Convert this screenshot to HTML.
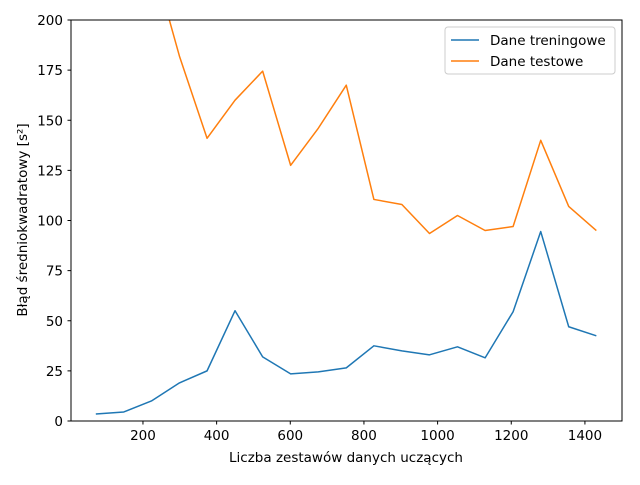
<!DOCTYPE html>
<html><head><meta charset="utf-8"><style>
body{margin:0;background:#fff;}
text{font-family:"DejaVu Sans","Liberation Sans",sans-serif;font-size:13.5px;fill:#000;}
</style></head><body>
<svg id="chart" width="640" height="480">
<defs><clipPath id="clip"><rect x="71" y="20" width="551" height="401"/></clipPath></defs>
<g id="grid"></g>
<g id="series" clip-path="url(#clip)"></g>
<rect x="71" y="20" width="551" height="401" fill="none" stroke="#000" stroke-width="1"/>
<g id="axes"></g>
<text x="346" y="462" text-anchor="middle">Liczba zestawów danych uczących</text>
<text transform="translate(27,220) rotate(-90)" text-anchor="middle">Błąd średniokwadratowy [s²]</text>
<g>
<rect x="445" y="27" width="170" height="47" rx="3" fill="#fff" stroke="#ccc"/>
<line x1="451" y1="40" x2="479" y2="40" stroke="#1f77b4" stroke-width="1.5"/>
<text x="490" y="45">Dane treningowe</text>
<line x1="451" y1="61" x2="479" y2="61" stroke="#ff7f0e" stroke-width="1.5"/>
<text x="490" y="66">Dane testowe</text>
</g>
</svg>
<script>
const xValues=[72,148,223,299,374,450,525,601,676,752,827,903,978,1054,1129,1205,1280,1356,1431];
const trainValues=[3.5,4.5,10,19,25,55,32,23.5,24.5,26.5,37.5,35,33,37,31.5,54.5,94.5,47,42.5];
const testValues=[400,300,232,182,141,160,174.5,127.5,146,167.5,110.5,108,93.5,102.5,95,97,140,107,95];
const xTicks=[200,400,600,800,1000,1200,1400];
const yTicks=[0,25,50,75,100,125,150,175,200];
const NS='http://www.w3.org/2000/svg';
function sx(v){return 69.3+v*0.3683;}
function sy(v){return 421-v*2.005;}
const axes=document.getElementById('axes');
function mk(tag,attrs,parent){const e=document.createElementNS(NS,tag);for(const k in attrs)e.setAttribute(k,attrs[k]);parent.appendChild(e);return e;}
xTicks.forEach(t=>{
 const l=mk('line',{x1:sx(t),x2:sx(t),y1:421,y2:424.5,stroke:'#000'},axes);
 
 
 const tx=mk('text',{x:sx(t),y:440,'text-anchor':'middle'},axes);tx.textContent=t;
 
 
});
yTicks.forEach(t=>{
 const l=mk('line',{x1:67.5,x2:71,y1:sy(t),y2:sy(t),stroke:'#000'},axes);
 
 
 const tx=mk('text',{x:63,y:sy(t)+5,'text-anchor':'end'},axes);tx.textContent=t;
 
 
});
const series=document.getElementById('series');
function line(vals,color,name){
 const p=mk('polyline',{points:vals.map((v,i)=>sx(xValues[i])+','+sy(v)).join(' '),fill:'none',stroke:color,'stroke-width':1.5,'stroke-linejoin':'round'},series);
 
 
}
line(trainValues,'#1f77b4','train-line');
line(testValues,'#ff7f0e','test-line');
</script>
</body></html>
